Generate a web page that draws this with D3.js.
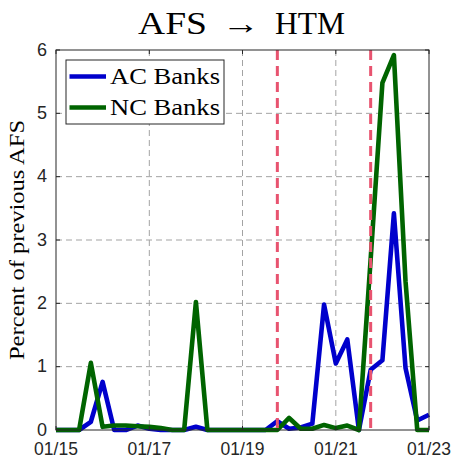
<!DOCTYPE html>
<html>
<head>
<meta charset="utf-8">
<script src="https://cdn.jsdelivr.net/npm/d3@7"></script>
<style>
  html, body { margin: 0; padding: 0; background: #fff; }
  svg { display: block; }
</style>
</head>
<body>
<svg id="chart" width="455" height="458"></svg>
<script>
// ---- data (quarterly, starting Jan 2015) ----
const quarterStarts = d3.range(33).map(i => new Date(2015, i * 3, 1));
const acBanks = [0, 0, 0, 0.13, 0.76, 0, 0, 0.07, 0.02, 0, 0, 0, 0.05, 0, 0, 0, 0, 0, 0,
  0.14, 0.02, 0.04, 0.1, 1.98, 1.05, 1.43, 0, 0.95, 1.1, 3.42, 0.98, 0.15, 0.24];
const ncBanks = [0, 0, 0, 1.06, 0.05, 0.07, 0.07, 0.06, 0.05, 0.03, 0, 0, 2.02, 0, 0, 0, 0, 0, 0,
  0, 0.19, 0.02, 0.02, 0.08, 0.03, 0.07, 0, 2.7, 5.48, 5.92, 2.35, 0, 0];
const eventDates = [new Date(2019, 9, 1), new Date(2021, 9, 1)];
const xTickDates = [new Date(2015, 0, 1), new Date(2017, 0, 1), new Date(2019, 0, 1), new Date(2021, 0, 1), new Date(2023, 0, 1)];
const xTickLabels = ["01/15", "01/17", "01/19", "01/21", "01/23"];
const yTicks = [0, 1, 2, 3, 4, 5, 6];
const seriesNames = ["AC Banks", "NC Banks"];
const seriesColors = ["#0000cc", "#006400"];

// ---- layout ----
const pL = 56, pR = 429, pT = 50, pB = 430;
const svg = d3.select("#chart");
const x = d3.scaleTime().domain([new Date(2015, 0, 1), new Date(2023, 0, 1)]).range([pL, pR]);
const y = d3.scaleLinear().domain([0, 6]).range([pB, pT]);

// grid
const grid = svg.append("g");
grid.selectAll(".vg").data(xTickDates.slice(1, -1)).enter().append("line")
  .attr("x1", d => x(d)).attr("x2", d => x(d)).attr("y1", pT).attr("y2", pB)
  .attr("stroke", "#a3a3a3").attr("stroke-width", 1).attr("stroke-dasharray", "6,4");
grid.selectAll(".hg").data(yTicks.slice(1, -1)).enter().append("line")
  .attr("x1", pL).attr("x2", pR).attr("y1", d => y(d)).attr("y2", d => y(d))
  .attr("stroke", "#a3a3a3").attr("stroke-width", 1).attr("stroke-dasharray", "6,4");

// series
const line = d3.line().x((d, i) => x(quarterStarts[i])).y(d => y(d));
[acBanks, ncBanks].forEach((s, k) => {
  svg.append("path").datum(s).attr("d", line)
    .attr("fill", "none").attr("stroke", seriesColors[k])
    .attr("stroke-width", 4.6).attr("stroke-linejoin", "round").attr("stroke-linecap", "butt");
});

// event lines
svg.selectAll(".ev").data(eventDates).enter().append("line")
  .attr("x1", d => x(d)).attr("x2", d => x(d)).attr("y1", pT).attr("y2", pB)
  .attr("stroke", "#e8536f").attr("stroke-width", 3).attr("stroke-dasharray", "10,6");

// axes box
const axisColor = "#262626";
svg.append("rect").attr("x", pL).attr("y", pT).attr("width", pR - pL).attr("height", pB - pT)
  .attr("fill", "none").attr("stroke", axisColor).attr("stroke-width", 1);

// ticks (inward, all sides)
const tl = 4;
xTickDates.forEach(d => {
  svg.append("line").attr("x1", x(d)).attr("x2", x(d)).attr("y1", pB).attr("y2", pB - tl).attr("stroke", axisColor);
  svg.append("line").attr("x1", x(d)).attr("x2", x(d)).attr("y1", pT).attr("y2", pT + tl).attr("stroke", axisColor);
});
yTicks.forEach(d => {
  svg.append("line").attr("x1", pL).attr("x2", pL + tl).attr("y1", y(d)).attr("y2", y(d)).attr("stroke", axisColor);
  svg.append("line").attr("x1", pR).attr("x2", pR - tl).attr("y1", y(d)).attr("y2", y(d)).attr("stroke", axisColor);
});

// tick labels
const sans = "'Liberation Sans', Arial, Helvetica, sans-serif";
svg.selectAll(".xl").data(xTickDates).enter().append("text")
  .attr("x", d => x(d)).attr("y", 455).attr("text-anchor", "middle")
  .attr("font-family", sans).attr("font-size", 17.5).attr("fill", "#262626")
  .text((d, i) => xTickLabels[i]);
svg.selectAll(".yl").data(yTicks).enter().append("text")
  .attr("x", 47).attr("y", d => y(d) + 5.5).attr("text-anchor", "end")
  .attr("font-family", sans).attr("font-size", 18).attr("fill", "#262626")
  .text(d => d);

// y label
const serif = "'Liberation Serif', 'Times New Roman', serif";
svg.append("text")
  .attr("transform", `translate(24, ${(pT + pB) / 2}) rotate(-90)`)
  .attr("text-anchor", "middle").attr("font-family", serif).attr("font-size", 21)
  .attr("textLength", 240).attr("lengthAdjust", "spacingAndGlyphs")
  .attr("fill", "#000").text("Percent of previous AFS");

// title
const title = svg.append("g").attr("font-family", serif).attr("font-size", 31).attr("fill", "#000");
title.append("text").attr("x", 138).attr("y", 34).attr("textLength", 69).attr("lengthAdjust", "spacingAndGlyphs").text("AFS");
title.append("text").attr("x", 222).attr("y", 34).attr("textLength", 38).attr("lengthAdjust", "spacingAndGlyphs").text("\u2192");
title.append("text").attr("x", 275).attr("y", 34).attr("textLength", 70).attr("lengthAdjust", "spacingAndGlyphs").text("HTM");

// legend
const lg = svg.append("g");
lg.append("rect").attr("x", 66).attr("y", 60).attr("width", 158).attr("height", 64)
  .attr("fill", "#fff").attr("stroke", axisColor).attr("stroke-width", 1);
const rowsY = [76.5, 107.5];
seriesNames.forEach((n, k) => {
  lg.append("line").attr("x1", 69.5).attr("x2", 106).attr("y1", rowsY[k]).attr("y2", rowsY[k])
    .attr("stroke", seriesColors[k]).attr("stroke-width", 4.6);
  lg.append("text").attr("x", 110).attr("y", rowsY[k] + 7.5)
    .attr("font-family", serif).attr("font-size", 23).attr("fill", "#000")
    .attr("textLength", 110).attr("lengthAdjust", "spacingAndGlyphs").text(n);
});
</script>
</body>
</html>
